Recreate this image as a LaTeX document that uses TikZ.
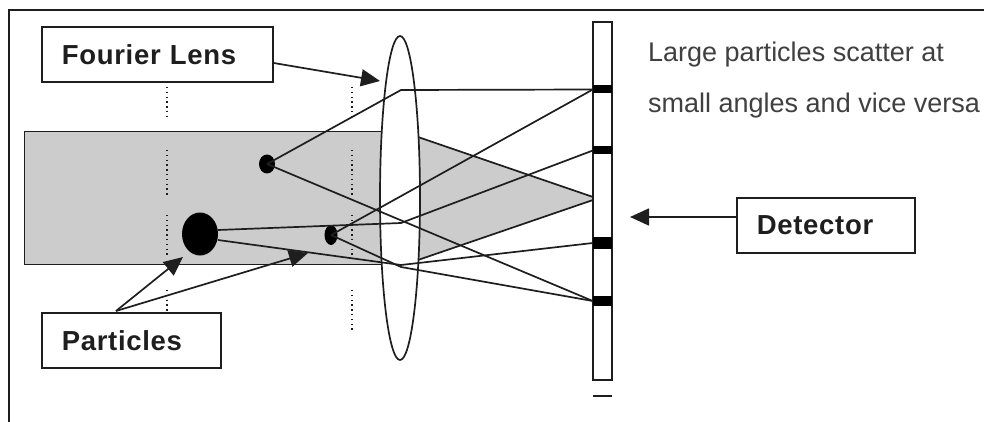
\documentclass[tikz,border=0pt]{standalone}
\usepackage{fontspec}
\setmainfont{Liberation Sans}
\usetikzlibrary{arrows.meta,shapes.geometric}
\definecolor{ink}{HTML}{1E1E1E}
\definecolor{beam}{HTML}{CCCCCC}
\tikzset{
  ln/.style={draw=ink,line width=1.7pt},
  labelbox/.style={ln,fill=white,rectangle,anchor=north west,minimum height=55pt,inner xsep=20pt,inner ysep=0pt,align=left,font=\fontsize{27.5}{30}\selectfont\bfseries\addfontfeature{LetterSpace=2.5},text=ink},
  note/.style={anchor=base west,inner sep=0pt,font=\fontsize{27}{30}\selectfont,text=ink!85},
  ray/.style={ln},
  pointer/.style={ln,-{Triangle[length=19pt,width=17pt]}},
  dots/.style={draw=ink,line width=1.3pt,dash pattern=on 1.4pt off 3.4pt},
  particle/.style={ellipse,fill=black,inner sep=0pt},
  band/.style={rectangle,fill=black,minimum width=19pt,inner sep=0pt},
}
\begin{document}
\begin{tikzpicture}[x=1pt,y=-1pt]
\useasboundingbox (0,0) rectangle (984,422);
\fill[white] (0,0) rectangle (984,422);
% frame
\draw[draw=ink,line width=2pt] (8.5,422) -- (8.5,10.5) -- (984,10.5);
% beam
\draw[ln,fill=beam] (385,131.5) -- (24.5,131.5) -- (24.5,264.5) -- (385,264.5);
\fill[beam] (385,132) rectangle (400,264);
\coordinate (gu) at (418,137);
\coordinate (gl) at (418,260);
\coordinate (gt) at (593,197);
\coordinate (gb) at (593,200);
\fill[beam] (gu) -- (gt) -- (gb) -- (gl) -- cycle;
\draw[ln] (gu) -- (gt);
\draw[ln] (gl) -- (gb);
% dotted guides
\foreach \a/\b in {87/120,150/197,215/257,290/312}{
  \draw[dots] (167,\a) -- (167,\b);}
\foreach \a/\b in {87/118,150/197,215/257,290/330}{
  \draw[dots] (352,\a) -- (352,\b);}
% lens
\node[ellipse,ln,fill=white,minimum width=40pt,minimum height=324pt,inner sep=0pt] (lens) at (400,198) {};
% detector
\node[rectangle,ln,fill=white,minimum width=19pt,minimum height=358pt,inner sep=0pt] (det) at (602.5,201) {};
\node[band,minimum height=8pt] (s1) at (602.5,89.5) {};
\node[band,minimum height=8pt] (s2) at (602.5,150.5) {};
\node[band,minimum height=12pt] (s3) at (602.5,243) {};
\node[band,minimum height=10pt] (s4) at (602.5,301) {};
\coordinate (d0) at (593,396);
\coordinate (d1) at (612,396);
\draw[ln] (d0) -- (d1);
% particles
\node[particle,minimum width=36pt,minimum height=43pt] (pb) at (200,234) {};
\node[particle,minimum width=16pt,minimum height=19pt] (pa) at (267,164) {};
\node[particle,minimum width=13pt,minimum height=20pt] (pc) at (331,235) {};
% lens bend points
\coordinate (k1) at (401,90);
\coordinate (k2) at (401,223);
\coordinate (k3) at (401,265);
\coordinate (k4) at (401,267);
% rays
\draw[ray] (pa.center) -- (k1) -- (s1.west);
\draw[ray] (pa.center) -- (s4.west);
\draw[ray] (pc.center) -- (s1.west);
\draw[ray] (pc.center) -- (k4) -- (s4.west);
\draw[ray] (218,230) -- (k2) -- (s2.west);
\draw[ray] (218,240) -- (k3) -- (s3.west);
% labels
\node[labelbox,text width=191pt] (fl) at (41,26) {Fourier Lens};
\node[labelbox,text width=139pt] (pt) at (41,312) {Particles};
\node[labelbox,text width=138pt] (dt) at (736,197) {Detector};
\node[note] (n1) at (648,62) {Large particles scatter at};
\node[note] (n2) at (648,113) {small angles and vice versa};
% pointers
\coordinate (t1) at (380,81);
\coordinate (t2) at (183,257);
\coordinate (t3) at (308,253);
\coordinate (t4) at (630,217);
\coordinate (st) at (116,311);
\draw[pointer] (fl.east |- 0,63) -- (t1);
\draw[pointer] (st) -- (t2);
\draw[pointer] (st) -- (t3);
\draw[pointer] (dt.west |- t4) -- (t4);
\end{tikzpicture}
\end{document}
